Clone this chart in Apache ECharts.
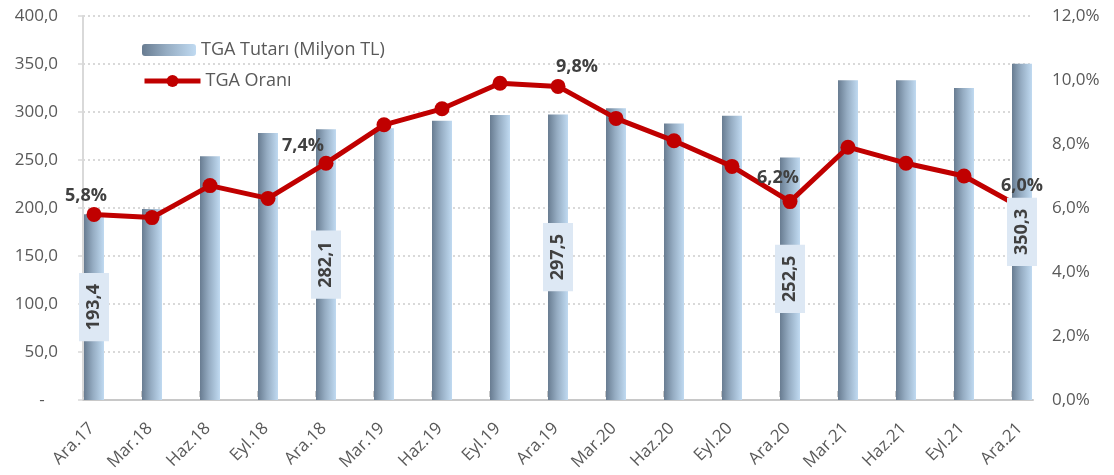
<!DOCTYPE html>
<html>
<head>
<meta charset="utf-8">
<script src="https://cdn.jsdelivr.net/npm/echarts@6/dist/echarts.min.js"></script>
<style>
html,body{margin:0;padding:0;background:#fff;}
#chart{width:1114px;height:475px;}
</style>
</head>
<body>
<div id="chart"></div>
<script>
// ---- data ----
const categories = ['Ara.17','Mar.18','Haz.18','Eyl.18','Ara.18','Mar.19','Haz.19','Eyl.19','Ara.19','Mar.20','Haz.20','Eyl.20','Ara.20','Mar.21','Haz.21','Eyl.21','Ara.21'];
const tgaTutari = [193.4, 199, 254, 278, 282.1, 283, 291, 297, 297.5, 304, 288, 296, 252.5, 333, 333, 325, 350.3];
const tgaOrani = [5.8, 5.7, 6.7, 6.3, 7.4, 8.6, 9.1, 9.9, 9.8, 8.8, 8.1, 7.3, 6.2, 7.9, 7.4, 7.0, 6.0];
const seriesNames = ['TGA Tutarı (Milyon TL)', 'TGA Oranı'];
const leftTicks = {min: 0, max: 400, interval: 50};
const rightTicks = {min: 0, max: 12, interval: 2};

// ---- styling ----
const FONT = 'Open Sans';
const TXT = '#595959';
const LBL = '#404040';
const pctLabelOffsets = {0: [-8, 3], 4: [-23, 4], 8: [19, 2], 12: [-12, -2], 16: [0, -1]};
const fmt1 = v => v.toFixed(1).replace('.', ',');
const isLabeled = i => categories[i].startsWith('Ara');

const barGradient = new echarts.graphic.LinearGradient(0, 0, 1, 0, [
  {offset: 0, color: '#687c91'},
  {offset: 0.45, color: '#95acc2'},
  {offset: 1, color: '#c0daf1'}
]);

const barData = categories.map((c, i) => [i, tgaTutari[i]]);
const labelBarData = categories.map((c, i) => ({
  value: [i, tgaTutari[i]],
  label: {show: isLabeled(i)}
}));
const lineData = categories.map((c, i) => {
  const d = {value: [i, tgaOrani[i]]};
  if (isLabeled(i)) {
    d.label = {show: true, offset: pctLabelOffsets[i] || [0, 0]};
  }
  return d;
});

// grid geometry: bar centres at 94 + 58k, ticks at 84 + 58k
const G_LEFT = 83, G_TOP = 16, G_W = 950, G_H = 384, STEP = 58;
const xMin = (G_LEFT - 94) / STEP;
const xMax = xMin + G_W / STEP;

const legendText = {color: TXT, fontSize: 18, fontFamily: FONT};

const chart = echarts.init(document.getElementById('chart'), null, {renderer: 'canvas'});
chart.setOption({
  animation: false,
  backgroundColor: '#ffffff',
  textStyle: {fontFamily: FONT},
  grid: [
    {left: G_LEFT, top: G_TOP, width: G_W, height: G_H},
    {left: 84, top: G_TOP, width: STEP * (categories.length - 1), height: G_H}
  ],
  legend: [
    {
      left: 137, top: 36, padding: 5,
      itemWidth: 54, itemHeight: 12,
      data: [seriesNames[0]],
      textStyle: legendText
    },
    {
      left: 137, top: 67, padding: 5,
      itemWidth: 56, itemHeight: 15,
      data: [{name: seriesNames[1], lineStyle: {width: 5}}],
      textStyle: legendText
    }
  ],
  xAxis: [
    {
      type: 'value', gridIndex: 0, min: xMin, max: xMax,
      axisLine: {show: true, onZero: false, lineStyle: {color: '#c8c8c8', width: 2}},
      axisTick: {show: false}, axisLabel: {show: false}, splitLine: {show: false}
    },
    {
      type: 'category', gridIndex: 1, boundaryGap: false, data: categories,
      axisLine: {show: false},
      axisTick: {show: true, interval: 0, length: 6, lineStyle: {color: '#c8c8c8', width: 2}},
      axisLabel: {
        interval: 0, rotate: 45, margin: 27, color: TXT, fontSize: 17, fontFamily: FONT,
        verticalAlign: 'top', lineHeight: 22
      },
      splitLine: {show: false}
    }
  ],
  yAxis: [
    {
      type: 'value', gridIndex: 0, position: 'left',
      min: leftTicks.min, max: leftTicks.max, interval: leftTicks.interval,
      axisLine: {show: true, onZero: false, lineStyle: {color: '#d9d9d9', width: 2}},
      axisTick: {show: true, length: 5, lineStyle: {color: '#d9d9d9', width: 1.5}},
      axisLabel: {
        margin: 25, color: TXT, fontSize: 17, fontFamily: FONT,
        formatter: v => v === 0 ? '-   ' : fmt1(v)
      },
      splitLine: {show: true, lineStyle: {color: '#d9d9d9', width: 2, type: [2, 3]}}
    },
    {
      type: 'value', gridIndex: 0, position: 'right',
      min: rightTicks.min, max: rightTicks.max, interval: rightTicks.interval,
      axisLine: {show: false, onZero: false}, axisTick: {show: false},
      axisLabel: {margin: 19, color: TXT, fontSize: 17, fontFamily: FONT, formatter: v => fmt1(v) + '%'},
      splitLine: {show: false}
    },
    {type: 'value', gridIndex: 1, show: false, min: 0, max: 400}
  ],
  series: [
    {
      name: seriesNames[0], type: 'bar', xAxisIndex: 0, yAxisIndex: 0,
      barWidth: 20, data: barData, z: 2,
      itemStyle: {color: barGradient}
    },
    {
      name: seriesNames[1], type: 'line', xAxisIndex: 0, yAxisIndex: 1,
      data: lineData, z: 3,
      symbol: 'circle', symbolSize: 15,
      itemStyle: {color: '#c00000'},
      lineStyle: {color: '#c00000', width: 5},
      label: {
        show: false, position: 'top', distance: 5,
        color: LBL, fontSize: 18, fontWeight: 'bold', fontFamily: FONT,
        formatter: p => fmt1(p.value[1]) + '%'
      }
    },
    {
      name: 'labels', type: 'bar', xAxisIndex: 0, yAxisIndex: 0,
      barWidth: 20, barGap: '-100%', data: labelBarData, z: 5,
      itemStyle: {color: 'rgba(0,0,0,0)'},
      silent: true, legendHoverLink: false,
      label: {
        show: false, position: 'inside', rotate: 90,
        color: LBL, fontSize: 18, fontWeight: 'bold', fontFamily: FONT,
        backgroundColor: '#dde8f4', padding: [6, 11],
        formatter: p => fmt1(p.value[1])
      }
    }
  ]
});
</script>
</body>
</html>
